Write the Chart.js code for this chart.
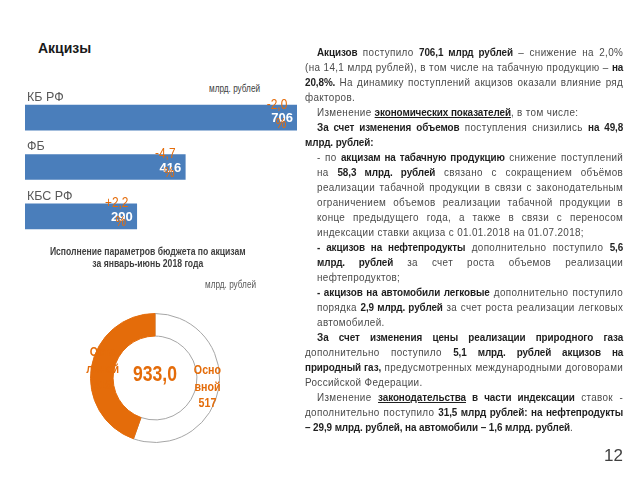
<!DOCTYPE html>
<html>
<head>
<meta charset="utf-8">
<script src="https://cdn.jsdelivr.net/npm/chart.js@4"></script>
<style>
  body { margin: 0; width: 640px; height: 480px; background: #fff; position: relative; overflow: hidden;
    font-family: "Liberation Sans", Arial, sans-serif; }
  .abs { position: absolute; }
  .narrow { transform: scaleX(0.82); transform-origin: 0 0; }
  #title { left: 38px; top: 40px; font: bold 14px "Liberation Sans", sans-serif; color: #1a1a1a; }
  #unit1 { left: 209px; top: 83px; font-size: 10px; color: #404040; }
  #subtitle { left: 8px; top: 245px; width: 341px; text-align: center; font-weight: bold; font-size: 10.5px; line-height: 12px; color: #404040; }
  #unit2 { left: 205px; top: 279px; font-size: 10px; color: #595959; }
  #text { left: 305px; top: 45px; width: 370px; font-size: 11.5px; line-height: 15px; letter-spacing: 0.4px;
    color: #4a4a4a; text-align: justify; transform: scaleX(0.86); transform-origin: 0 0; }
  #text p { margin: 0; }
  #text b { color: #1f1f1f; letter-spacing: -0.1px; }
  #text .ind { text-indent: 14px; }
  #text .li { padding-left: 14px; }
  #page { left: 604px; top: 446px; font: 17px "Liberation Sans", sans-serif; color: #404040; }
</style>
</head>
<body>
<div id="title" class="abs">Акцизы</div>
<div id="unit1" class="abs narrow">млрд. рублей</div>
<canvas id="bars" class="abs" width="310" height="170" style="left:0;top:80px"></canvas>
<div id="subtitle" class="abs narrow">Исполнение параметров бюджета по акцизам<br>за январь-июнь 2018 года</div>
<div id="unit2" class="abs narrow">млрд. рублей</div>
<canvas id="ring" class="abs" width="230" height="160" style="left:40px;top:298px"></canvas>
<div id="text" class="abs">
  <p class="ind"><b>Акцизов</b> поступило <b>706,1 млрд рублей</b> – снижение на 2,0% (на 14,1 млрд рублей), в том числе на табачную продукцию – <b>на 20,8%.</b> На динамику поступлений акцизов оказали влияние ряд факторов.</p>
  <p class="ind">Изменение <b><u>экономических показателей</u></b>, в том числе:</p>
  <p class="ind"><b>За счет изменения объемов</b> поступления снизились <b>на 49,8 млрд. рублей:</b></p>
  <p class="li">- по <b>акцизам на табачную продукцию</b> снижение поступлений на <b>58,3 млрд. рублей</b> связано с сокращением объёмов реализации табачной продукции в связи с законодательным ограничением объемов реализации табачной продукции в конце предыдущего года, а также в связи с переносом индексации ставки акциза с 01.01.2018 на 01.07.2018;</p>
  <p class="li"><b>- акцизов на нефтепродукты</b> дополнительно поступило <b>5,6 млрд. рублей</b> за счет роста объемов реализации нефтепродуктов;</p>
  <p class="li"><b>- акцизов на автомобили легковые</b> дополнительно поступило порядка <b>2,9 млрд. рублей</b> за счет роста реализации легковых автомобилей.</p>
  <p class="ind"><b>За счет изменения цены реализации природного газа</b> дополнительно поступило <b>5,1 млрд. рублей акцизов на природный газ,</b> предусмотренных международными договорами Российской Федерации.</p>
  <p class="ind">Изменение <b><u>законодательства</u> в части индексации</b> ставок - дополнительно поступило <b>31,5 млрд рублей: на нефтепродукты – 29,9 млрд. рублей, на автомобили – 1,6 млрд. рублей</b>.</p>
</div>
<div id="page" class="abs">12</div>

<script>
// budget bars
const budgets = ['КБ РФ', 'ФБ', 'КБС РФ'];
const excise = [706, 416, 290];
const change = ['-2,0', '-4,7', '+2,2'];

// ring
const ringNames = ['Основной', 'Остальной'];
const ringValues = [517, 416];
const ringTotal = '933,0';

const orange = '#E46C0A';

// draw text squeezed like Arial Narrow
function narrowText(c, t, x, y, k) {
  c.save();
  c.translate(x, y);
  c.scale(k, 1);
  c.fillText(t, 0, 0);
  c.restore();
}

const barLabels = {
  id: 'barLabels',
  afterDatasetsDraw(chart) {
    const c = chart.ctx;
    const meta = chart.getDatasetMeta(0);
    meta.data.forEach(function(bar, i) {
      c.save();
      c.textBaseline = 'middle';
      // category name above the bar
      c.fillStyle = '#595959';
      c.font = '12.5px "Liberation Sans", sans-serif';
      c.textAlign = 'left';
      c.fillText(budgets[i], chart.chartArea.left + 2, bar.y - 20);
      // value inside
      c.fillStyle = '#fff';
      c.font = 'bold 13px "Liberation Sans", sans-serif';
      c.textAlign = 'right';
      c.fillText(excise[i], bar.x - 4, bar.y + 1);
      // change in percent
      c.fillStyle = orange;
      c.font = '14px "Liberation Sans", sans-serif';
      c.textAlign = 'center';
      narrowText(c, change[i], bar.x - 20, bar.y - 13, 0.85);
      narrowText(c, '%', bar.x - 16, bar.y + 6, 0.85);
      c.restore();
    });
  }
};

new Chart(document.getElementById('bars'), {
  type: 'bar',
  data: {
    labels: budgets,
    datasets: [{
      data: excise,
      backgroundColor: '#4A7EBB',
      barThickness: 25
    }]
  },
  options: {
    indexAxis: 'y',
    responsive: false,
    animation: false,
    devicePixelRatio: 1,
    layout: { padding: { left: 25, right: 13, top: 13, bottom: 9 } },
    plugins: { legend: { display: false }, tooltip: { enabled: false } },
    scales: {
      x: { display: false, min: 0, max: Math.max(...excise) },
      y: { display: false }
    }
  },
  plugins: [barLabels]
});

const ringLabels = {
  id: 'ringLabels',
  afterDatasetsDraw(chart) {
    const c = chart.ctx;
    const meta = chart.getDatasetMeta(0);
    c.save();
    c.textAlign = 'center';
    c.textBaseline = 'middle';
    c.fillStyle = orange;
    c.font = 'bold 13px "Liberation Sans", sans-serif';
    meta.data.forEach(function(arc, i) {
      const p = arc.tooltipPosition();
      const name = ringNames[i];
      const lines = [name.slice(0, 4), name.slice(4), String(ringValues[i])];
      lines.forEach(function(t, k) {
        narrowText(c, t, p.x, p.y + (k - 1) * 16.5, 0.82);
      });
    });
    const a = meta.data[0];
    c.font = 'bold 22px "Liberation Sans", sans-serif';
    narrowText(c, ringTotal, a.x, a.y - 3, 0.8);
    c.restore();
  }
};

new Chart(document.getElementById('ring'), {
  type: 'doughnut',
  data: {
    labels: ringNames,
    datasets: [{
      data: ringValues,
      backgroundColor: ['#ffffff', orange],
      borderColor: ['#a6a6a6', orange],
      borderWidth: 1
    }]
  },
  options: {
    responsive: false,
    animation: false,
    devicePixelRatio: 1,
    cutout: '65%',
    layout: { padding: { left: 50, right: 50, top: 15, bottom: 15 } },
    plugins: { legend: { display: false }, tooltip: { enabled: false } }
  },
  plugins: [ringLabels]
});
</script>
</body>
</html>
